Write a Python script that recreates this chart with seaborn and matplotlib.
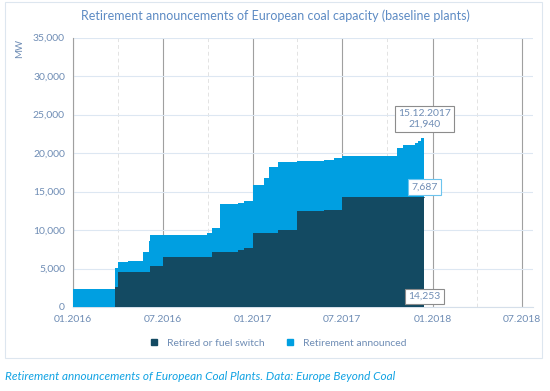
import pandas as pd
import matplotlib
matplotlib.use('Agg')
import matplotlib.pyplot as plt
import matplotlib.dates as mdates
from matplotlib.lines import Line2D
from matplotlib.patches import Rectangle
import seaborn as sns

# DATA (step changes, MW)
dates = ['2016-01-01', '2016-03-25', '2016-04-01', '2016-04-22', '2016-05-21',
         '2016-06-02', '2016-06-05', '2016-07-01', '2016-09-28', '2016-10-10',
         '2016-10-25', '2016-12-02', '2016-12-14', '2017-01-01', '2017-01-22',
         '2017-02-03', '2017-02-21', '2017-03-31', '2017-05-25', '2017-06-14',
         '2017-07-01', '2017-10-20', '2017-11-02', '2017-11-26', '2017-12-02',
         '2017-12-08', '2017-12-15']
retired = [0, 2600, 4560, 4560, 4560,
           4560, 5340, 6430, 6430, 7160,
           7160, 7380, 7600, 9560, 9560,
           9560, 9990, 12460, 12590, 12590,
           14253, 14253, 14253, 14253, 14253,
           14253, 14253]
total = [2400, 5000, 5860, 5950, 7080,
         8590, 9340, 9340, 9560, 10290,
         13330, 13460, 13760, 15850, 16720,
         18230, 18880, 19010, 19050, 19400,
         19560, 20630, 21000, 21350, 21600,
         21940, 21940]
series_names = ['Retired or fuel switch', 'Retirement announced']

dark = '#134A62'
light = '#009FE1'
txt = '#6F8DB5'

df = pd.DataFrame({'date': pd.to_datetime(dates), 'retired': retired, 'total': total})
df['announced'] = df['total'] - df['retired']

sns.set_style('white')
plt.rcParams['font.family'] = ['Lato', 'DejaVu Sans']

fig = plt.figure(figsize=(5.5, 3.91), dpi=100)
ax = fig.add_axes([73.3 / 550, 1 - 307 / 391, (533 - 73.3) / 550, (307 - 37.5) / 391])

ax.fill_between(df['date'], 0, df['retired'], step='post', color=dark, lw=0, zorder=3)
ax.fill_between(df['date'], df['retired'], df['total'], step='post', color=light, lw=0, zorder=3)
sns.lineplot(x=df['date'], y=df['retired'], drawstyle='steps-post', color=dark, lw=0.6, ax=ax, zorder=4)

ax.set_xlim(pd.Timestamp('2016-01-01'), pd.Timestamp('2018-07-24'))
ax.set_ylim(0, 35000)

ax.xaxis.set_major_locator(mdates.MonthLocator(bymonth=[1, 7]))
ax.xaxis.set_minor_locator(mdates.MonthLocator(bymonth=[4, 10]))
ax.xaxis.set_major_formatter(mdates.DateFormatter('%m.%Y'))
ax.set_yticks(range(0, 35001, 5000))
ax.set_yticklabels([f'{v:,}' for v in range(0, 35001, 5000)])

ax.grid(axis='y', color='#DDE7F2', lw=0.8, zorder=0)
ax.grid(axis='x', which='major', color='#A0A0A0', lw=0.8, zorder=0)
ax.grid(axis='x', which='minor', color='#E3E3E3', lw=0.7, ls=(0, (4, 3)), zorder=0)

ax.tick_params(axis='x', which='both', length=3, color='#C8C8C8', labelsize=7.5,
               labelcolor=txt, pad=3)
ax.tick_params(axis='y', length=0, labelsize=7.5, labelcolor=txt, pad=6)
for s in ['top', 'right']:
    ax.spines[s].set_visible(False)
ax.spines['left'].set_color('#A0A0A0')
ax.spines['bottom'].set_color('#D5DFEA')
ax.set_xlabel('')
ax.set_ylabel('')

fig.text(20 / 550, 1 - 48 / 391, 'MW', rotation=90, fontsize=7, color=txt,
         ha='center', va='center')
fig.text(0.5, 1 - 16 / 391,
         'Retirement announcements of European coal capacity (baseline plants)',
         fontsize=9, color='#5D8BC4', ha='center', va='center')

# end-of-data labels
end = df['date'].iloc[-1]
box = dict(boxstyle='square,pad=0.3', fc='white', lw=0.8)
ax.text(end, 24450, f"{end:%d.%m.%Y}\n{df['total'].iloc[-1]:,}", ha='center', va='center',
        fontsize=7.5, color=txt, linespacing=1.3, bbox={**box, 'ec': '#8C8C8C'}, zorder=6)
ax.text(end, 15600, f"{df['announced'].iloc[-1]:,}", ha='center', va='center',
        fontsize=7.5, color=txt, bbox={**box, 'ec': '#6CC4EE'}, zorder=6)
ax.text(end, 1350, f"{df['retired'].iloc[-1]:,}", ha='center', va='center',
        fontsize=7.5, color=txt, bbox={**box, 'ec': '#8C8C8C'}, zorder=6)

handles = [Line2D([], [], marker='s', ls='', color=dark, markersize=5),
           Line2D([], [], marker='s', ls='', color=light, markersize=5)]
fig.legend(handles, series_names, loc='center', bbox_to_anchor=(0.5, 1 - 343 / 391),
           ncol=2, frameon=False, fontsize=7.5, labelcolor=txt, handletextpad=0.2,
           columnspacing=1.5)

fig.add_artist(Rectangle((5 / 550, 1 - 358 / 391), 537 / 550, 356 / 391,
                         transform=fig.transFigure, fill=False, ec='#DDE6EF', lw=0.8))

fig.text(5 / 550, 1 - 376 / 391,
         'Retirement announcements of European Coal Plants. Data: Europe Beyond Coal',
         fontsize=8.5, style='italic', color='#12A3E3', ha='left', va='center')

fig.savefig('out.png', dpi=100)
